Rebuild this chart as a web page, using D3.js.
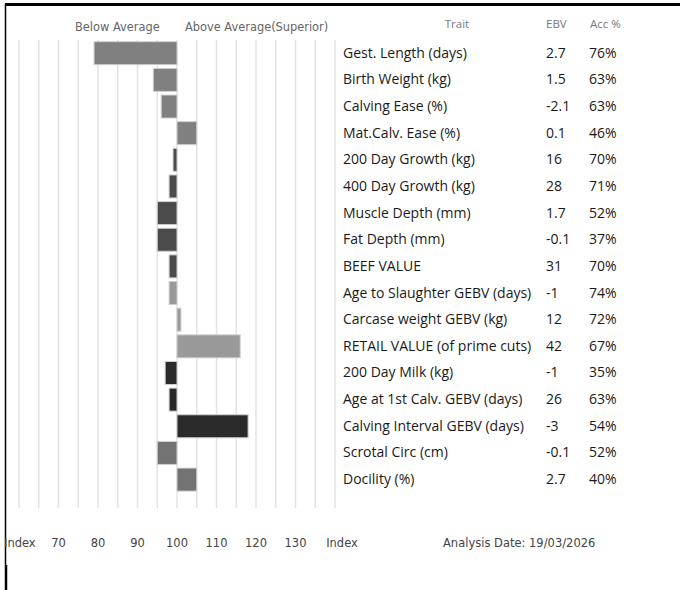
<!DOCTYPE html>
<html><head><meta charset="utf-8">
<script src="https://cdn.jsdelivr.net/npm/d3@7"></script>
<style>body{margin:0;background:#fff}svg{display:block}</style>
</head><body><svg id="c" width="680" height="590"></svg>
<script>
const traits = ["Gest. Length (days)","Birth Weight (kg)","Calving Ease (%)","Mat.Calv. Ease (%)","200 Day Growth (kg)","400 Day Growth (kg)","Muscle Depth (mm)","Fat Depth (mm)","BEEF VALUE","Age to Slaughter GEBV (days)","Carcase weight GEBV (kg)","RETAIL VALUE (of prime cuts)","200 Day Milk (kg)","Age at 1st Calv. GEBV (days)","Calving Interval GEBV (days)","Scrotal Circ (cm)","Docility (%)"];
const ebv = ["2.7","1.5","-2.1","0.1","16","28","1.7","-0.1","31","-1","12","42","-1","26","-3","-0.1","2.7"];
const acc = ["76%","63%","63%","46%","70%","71%","52%","37%","70%","74%","72%","67%","35%","63%","54%","52%","40%"];
const indexVals = [79,94,96,105,99,98,95,95,98,98,101,116,97,98,118,95,105];
const groupColors = ["#808080","#808080","#808080","#808080","#4b4b4b","#4b4b4b","#4b4b4b","#4b4b4b","#4b4b4b","#999999","#999999","#999999","#2b2b2b","#2b2b2b","#2b2b2b","#737373","#737373"];
const gridVals = [60,65,70,75,80,85,90,95,100,105,110,115,120,125,130,135,140];
const tickLabels = [70,80,90,100,110,120,130];

const svg = d3.select("#c");
const x = d3.scaleLinear().domain([60,140]).range([19,335]);
const y = d3.scaleBand().domain(traits).range([39.9,492.9]).paddingInner(0.137).paddingOuter(0.0685);

// border
svg.append("line").attr("x1",5).attr("x2",680).attr("y1",4.5).attr("y2",4.5).attr("stroke","#000").attr("stroke-width",3);
svg.append("line").attr("x1",5.5).attr("x2",5.5).attr("y1",4).attr("y2",565).attr("stroke","#000").attr("stroke-width",1.5);
svg.append("line").attr("x1",6).attr("x2",6).attr("y1",565).attr("y2",590).attr("stroke","#000").attr("stroke-width",2.5);

// grid
svg.append("g").selectAll("line").data(gridVals).join("line")
  .attr("x1",d=>x(d)).attr("x2",d=>x(d)).attr("y1",40).attr("y2",508)
  .attr("stroke","#e3e3e3").attr("stroke-width",1.5);

// bars
svg.append("g").selectAll("rect").data(indexVals).join("rect")
  .attr("x",d=>x(Math.min(d,100)))
  .attr("width",d=>Math.abs(x(d)-x(100)))
  .attr("y",(d,i)=>y(traits[i]))
  .attr("height",y.bandwidth())
  .attr("fill",(d,i)=>groupColors[i])
  .attr("stroke","#d0d0d0").attr("stroke-width",1);

function txt(t,xx,yy,anchor,style){const e=svg.append("text").attr("x",xx).attr("y",yy).attr("text-anchor",anchor||"start").text(t);for(const k in style)e.style(k,style[k]);return e;}
// headers
const hdr = {"font-family":"DejaVu Sans, Verdana, sans-serif","font-size":"11.4px","fill":"#666"};
txt("Below Average",75,31,"start",hdr);
txt("Above Average(Superior)",185,31,"start",hdr);
const hdr2 = {"font-family":"Open Sans, sans-serif","font-size":"11.5px","fill":"#777"};
txt("Trait",457,28,"middle",hdr2);
txt("EBV",546,28,"start",hdr2);
txt("Acc %",590,28,"start",hdr2);

// trait table
const rowStyle = {"font-family":"Open Sans, sans-serif","font-size":"14px","fill":"#1a1a1a"};
traits.forEach((t,i)=>{
  const cy = y(t)+y.bandwidth()/2+4.5;
  txt(t,343,cy,"start",rowStyle);
  txt(ebv[i],546,cy,"start",rowStyle);
  txt(acc[i],589,cy,"start",rowStyle);
});

// bottom axis labels
const ax = {"font-family":"DejaVu Sans, Verdana, sans-serif","font-size":"11.5px","fill":"#444"};
txt("Index",4,547,"start",ax);
svg.append("g").selectAll("text").data(tickLabels).join("text")
  .attr("x",d=>x(d)).attr("y",547).attr("text-anchor","middle").text(d=>d)
  .style("font-family","DejaVu Sans, Verdana, sans-serif").style("font-size","11.5px").style("fill","#444");
txt("Index",342,547,"middle",ax);
txt("Analysis Date: 19/03/2026",443,547,"start",ax);
</script></body></html>
